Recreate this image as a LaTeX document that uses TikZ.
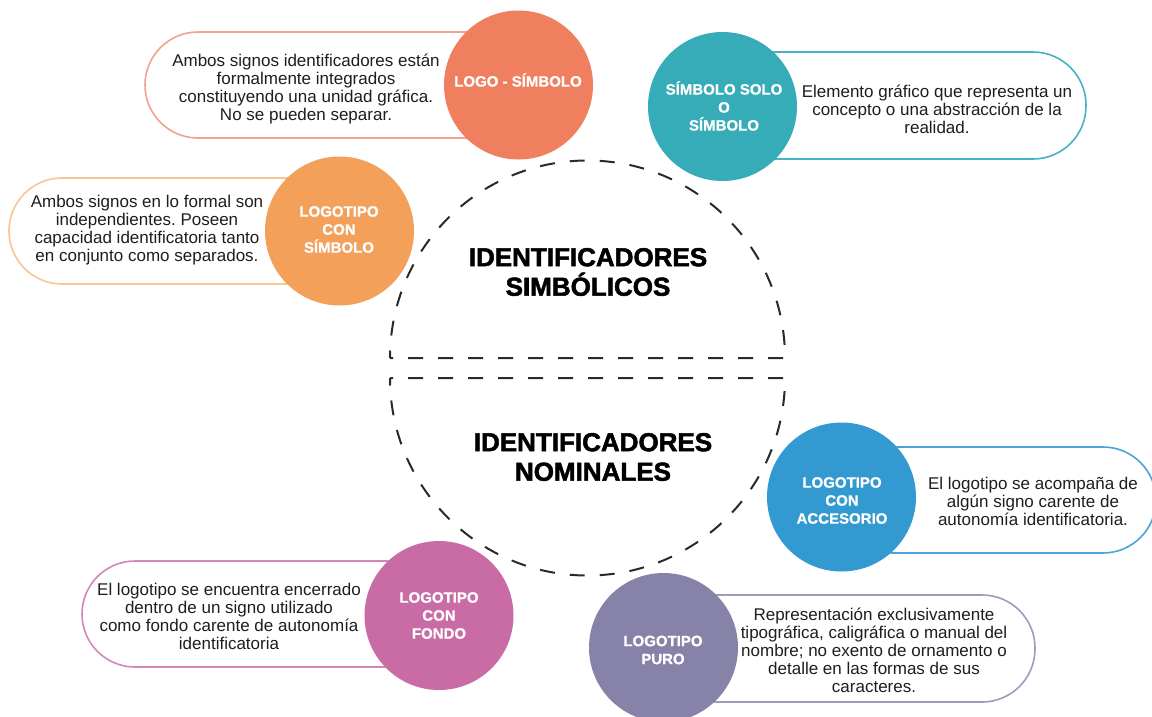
\documentclass[tikz,border=0pt]{standalone}
\usepackage{fontspec}
\setmainfont{Liberation Sans}
\newfontfamily\lblfont[FakeBold=0.8]{Liberation Sans Bold}
\newfontfamily\ttlfont[FakeBold=2]{Liberation Sans Bold}
\definecolor{cA}{HTML}{EF7F5E}
\definecolor{cB}{HTML}{37ACB9}
\definecolor{cC}{HTML}{F2A05A}
\definecolor{cD}{HTML}{3399D1}
\definecolor{cE}{HTML}{C96BA5}
\definecolor{cF}{HTML}{8682A8}
\definecolor{bA}{HTML}{F2A290}
\definecolor{bB}{HTML}{45B3C2}
\definecolor{bC}{HTML}{F8C593}
\definecolor{bD}{HTML}{48A4DB}
\definecolor{bE}{HTML}{D486BA}
\definecolor{bF}{HTML}{9F9BBE}
\definecolor{txtc}{HTML}{1E1E1E}
\definecolor{dashgray}{HTML}{2A2A2A}
\frenchspacing
\begin{document}
\begin{tikzpicture}[x=1pt,y=-1pt,
  pill/.style={draw, line width=1.6pt, fill=white, rectangle, rounded corners=53pt,
    minimum height=106pt, inner sep=0pt},
  bubble/.style={circle, minimum size=149pt, inner sep=0pt},
  lbl/.style={align=center, text=white, inner sep=0pt,
    font=\lblfont\fontsize{15}{18}\selectfont},
  desc/.style={align=center, text=txtc, inner sep=0pt,
    font=\fontsize{17}{18}\selectfont},
  ttl/.style={align=center, text=black, inner sep=0pt,
    font=\ttlfont\fontsize{26}{29.5}\selectfont},
  divider/.style={draw=dashgray, line width=2pt, dash pattern=on 15pt off 15pt, dash phase=7.5pt}]
\useasboundingbox[fill=white] (0,0) rectangle (1152,716);

% central dashed halves
\draw[divider] (390,358) arc[start angle=180, end angle=0, radius=197.5pt] -- cycle;
\draw[divider] (390,378) arc[start angle=180, end angle=360, radius=197.5pt] -- cycle;
\node[ttl] (tsim) at (588,272) {IDENTIFICADORES\\SIMBÓLICOS};
\node[ttl] (tnom) at (593,457) {IDENTIFICADORES\\NOMINALES};

% pills
\node[pill, draw=bA, minimum width=375pt] (p1) at (332.5,85) {};
\node[pill, draw=bB, minimum width=366pt, minimum height=107pt] (p2) at (903,105.5) {};
\node[pill, draw=bC, minimum width=331pt] (p3) at (174.5,231) {};
\node[pill, draw=bD, minimum width=316pt] (p4) at (998,500) {};
\node[pill, draw=bE, minimum width=358pt] (p5) at (261,614) {};
\node[pill, draw=bF, minimum width=372pt, minimum height=107pt] (p6) at (849,648.5) {};

% descriptions
\node[desc] (t1) at (306,89) {Ambos signos identificadores están\\formalmente integrados\\constituyendo una unidad gráfica.\\No se pueden separar.};
\node[desc] (t2) at (937,109.5) {Elemento gráfico que representa un\\concepto o una abstracción de la\\realidad.};
\node[desc] (t3) at (147,230.5) {Ambos signos en lo formal son\\independientes. Poseen\\capacidad identificatoria tanto\\en conjunto como separados.};
\node[desc] (t4) at (1033,501) {El logotipo se acompaña de\\algún signo carente de\\autonomía identificatoria.};
\node[desc] (t5) at (229,616) {El logotipo se encuentra encerrado\\dentro de un signo utilizado\\como fondo carente de autonomía\\identificatoria};
\node[desc] (t6) at (874,650.5) {Representación exclusivamente\\tipográfica, caligráfica o manual del\\nombre; no exento de ornamento o\\detalle en las formas de sus\\caracteres.};

% circles
\node[bubble, fill=cA] (c1) at (518.5,85) {};
\node[bubble, fill=cB] (c2) at (722.5,106.5) {};
\node[bubble, fill=cC] (c3) at (339.5,231) {};
\node[bubble, fill=cD] (c4) at (841.5,497) {};
\node[bubble, fill=cE] (c5) at (439,615.5) {};
\node[bubble, fill=cF] (c6) at (663.5,647.5) {};

% circle labels
\node[lbl] (l1) at (518,80) {LOGO - SÍMBOLO};
\node[lbl] (l2) at (724,106) {SÍMBOLO SOLO\\O\\SÍMBOLO};
\node[lbl] (l3) at (339,229.5) {LOGOTIPO\\CON\\SÍMBOLO};
\node[lbl] (l4) at (842,500.5) {LOGOTIPO\\CON\\ACCESORIO};
\node[lbl] (l5) at (439,615.5) {LOGOTIPO\\CON\\FONDO};
\node[lbl] (l6) at (663,650) {LOGOTIPO\\PURO};
\end{tikzpicture}
\end{document}
